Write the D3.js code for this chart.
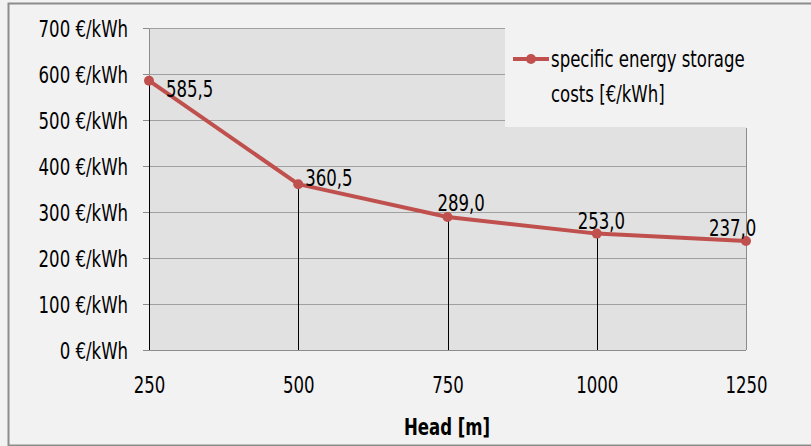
<!DOCTYPE html>
<html>
<head>
<meta charset="utf-8">
<script src="https://cdn.jsdelivr.net/npm/d3@7"></script>
<style>
  html, body { margin: 0; padding: 0; background: #f2f2f2; }
  svg text { font-family: "DejaVu Sans Condensed", "Liberation Sans Narrow", Lato, sans-serif; fill: #000; }
</style>
</head>
<body>
<svg id="chart" width="811" height="446"></svg>
<script>
// Head of the storage plant [m] and specific energy storage costs [€/kWh]
const heads = [250, 500, 750, 1000, 1250];
const costs = [585.5, 360.5, 289.0, 253.0, 237.0];
const yTicks = [0, 100, 200, 300, 400, 500, 600, 700];
const seriesName = ["specific energy storage", "costs [€/kWh]"];
const xTitle = "Head [m]";

const W = 811, H = 446;
const m = { left: 149, right: 746, top: 28, bottom: 350 };
const fontSize = 23;
const squeeze = 0.8;   // tall, narrow lettering
const red = "#c0504d";

const svg = d3.select("#chart");

// narrows each text horizontally while keeping its height
function condense(sel) {
  sel.attr("font-size", fontSize).each(function () {
    const len = this.getComputedTextLength();
    d3.select(this).attr("textLength", len * squeeze).attr("lengthAdjust", "spacingAndGlyphs");
  });
}

// chart frame
svg.append("rect").attr("x", 0).attr("y", 0).attr("width", W).attr("height", H).attr("fill", "#f2f2f2");
svg.append("rect").attr("x", 8.5).attr("y", 3.5).attr("width", W).attr("height", H - 4)
  .attr("fill", "none").attr("stroke", "#8c8c8c").attr("stroke-width", 2);

const x = d3.scaleLinear().domain([250, 1250]).range([m.left, m.right]);
const y = d3.scaleLinear().domain([0, 700]).range([m.bottom, m.top]);

// plot area
svg.append("rect").attr("x", m.left).attr("y", m.top)
  .attr("width", m.right - m.left).attr("height", m.bottom - m.top).attr("fill", "#e1e1e1");

// y axis
const yAxis = d3.axisLeft(y).tickValues(yTicks)
  .tickFormat(d => d + " €/kWh").tickSize(6).tickPadding(15);
const gy = svg.append("g").attr("transform", `translate(${m.left},0)`).call(yAxis);
gy.attr("font-family", null).attr("font-size", null);
gy.select(".domain").attr("stroke", "#8c8c8c");
gy.selectAll(".tick line").attr("stroke", "#8c8c8c");
gy.selectAll(".tick text").attr("dy", "0.36em").call(condense);

// gridlines
svg.append("g").selectAll("line").data(yTicks.filter(d => d > 0)).join("line")
  .attr("x1", m.left).attr("x2", m.right)
  .attr("y1", d => Math.round(y(d)) + 0.5).attr("y2", d => Math.round(y(d)) + 0.5)
  .attr("stroke", "#a0a0a0").attr("stroke-width", 1);

// right edge and bottom of the plot area
svg.append("line").attr("x1", m.right + 0.5).attr("x2", m.right + 0.5)
  .attr("y1", m.top + 100).attr("y2", m.bottom).attr("stroke", "#8c8c8c");
svg.append("line").attr("x1", m.left).attr("x2", m.right)
  .attr("y1", m.bottom + 0.5).attr("y2", m.bottom + 0.5).attr("stroke", "#8c8c8c");

// x axis labels
const xAxis = d3.axisBottom(x).tickValues(heads).tickFormat(d3.format("d")).tickSize(0).tickPadding(27);
const gx = svg.append("g").attr("transform", `translate(0,${m.bottom})`).call(xAxis);
gx.attr("font-family", null).attr("font-size", null);
gx.select(".domain").remove();
gx.selectAll(".tick text").attr("dy", "0.71em").call(condense);

svg.append("text").attr("x", 447).attr("y", 435).attr("text-anchor", "middle")
  .attr("font-weight", "bold").text(xTitle).call(condense);

// legend box
const lg = svg.append("g");
lg.append("rect").attr("x", 505).attr("y", m.top).attr("width", m.right - 505).attr("height", 99)
  .attr("fill", "#f2f2f2");

// drop lines from each point to the axis
const pts = heads.map((h, i) => ({ h, v: costs[i] }));
svg.append("g").selectAll("line").data(pts).join("line")
  .attr("x1", d => Math.round(x(d.h)) + 0.5).attr("x2", d => Math.round(x(d.h)) + 0.5)
  .attr("y1", d => y(d.v)).attr("y2", m.bottom)
  .attr("stroke", (d, i) => i === pts.length - 1 ? "#8c8c8c" : "#000").attr("stroke-width", 1);

// series line and markers
svg.append("path").datum(pts)
  .attr("d", d3.line().x(d => x(d.h)).y(d => y(d.v)))
  .attr("fill", "none").attr("stroke", red).attr("stroke-width", 4).attr("stroke-linejoin", "round");
svg.append("g").selectAll("circle").data(pts).join("circle")
  .attr("cx", d => x(d.h)).attr("cy", d => y(d.v)).attr("r", 5).attr("fill", red);

// value labels (first to the right of its point, the rest above)
const fmt = v => v.toFixed(1).replace(".", ",");
const labelOffset = [[17, 16], [7, 1.5], [-10, -6], [-19, -5], [-37, -4.5]];
svg.append("g").selectAll("text").data(pts).join("text")
  .attr("x", (d, i) => x(d.h) + labelOffset[i][0])
  .attr("y", (d, i) => y(d.v) + labelOffset[i][1])
  .text(d => fmt(d.v)).call(condense);

// legend entry
lg.append("line").attr("x1", 513).attr("x2", 549).attr("y1", 59).attr("y2", 59)
  .attr("stroke", red).attr("stroke-width", 4);
lg.append("circle").attr("cx", 531).attr("cy", 59).attr("r", 5).attr("fill", red);
lg.selectAll("text.name").data(seriesName).join("text").attr("class", "name")
  .attr("x", 551).attr("y", (d, i) => 67 + i * 35).text(d => d).call(condense);
</script>
</body>
</html>
